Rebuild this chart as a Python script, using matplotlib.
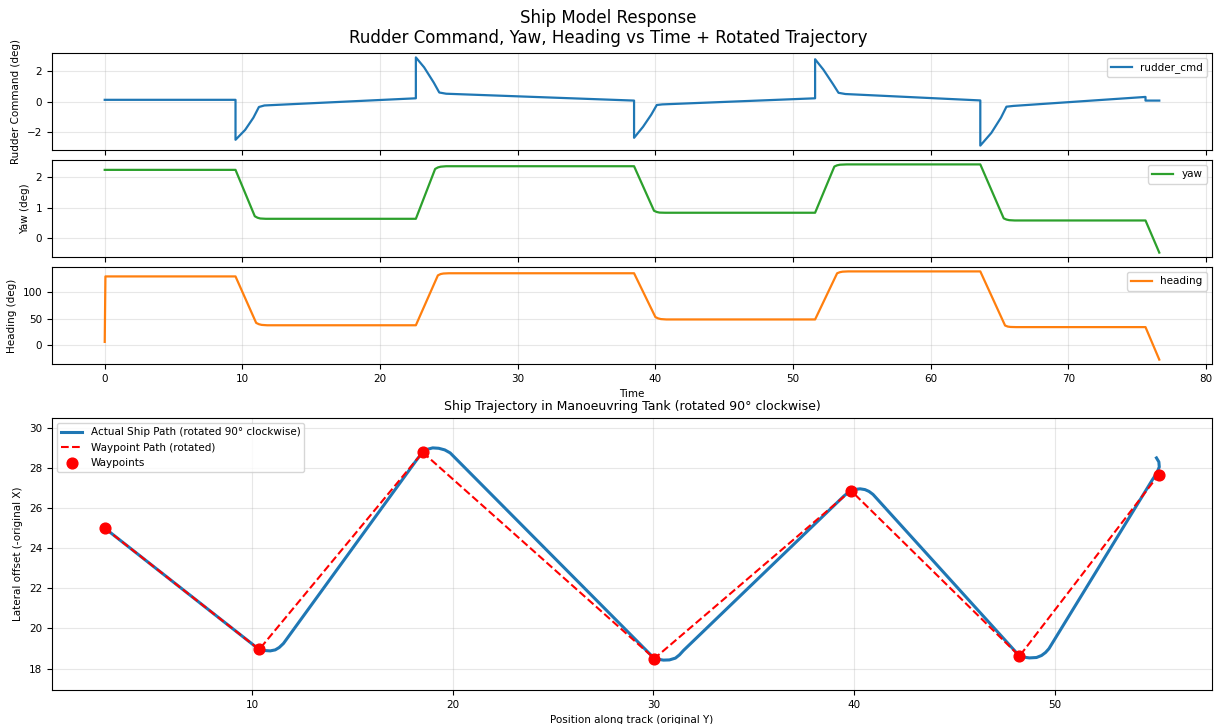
import matplotlib
matplotlib.use("Agg")
import matplotlib.pyplot as plt

# ── Time series (keypoints)
t_rudder = [0, 9.5, 9.5, 10.2, 10.8, 11.2, 11.6, 22.6, 22.6, 23.2, 23.9, 24.3, 24.8,
            38.45, 38.45, 39.1, 39.7, 40.1, 40.5, 51.6, 51.6, 52.2, 52.9, 53.3, 53.8,
            63.6, 63.6, 64.4, 65.1, 65.5, 66.0, 75.6, 75.6, 76.6]
rudder_cmd = [0.12, 0.12, -2.5, -1.85, -1.05, -0.35, -0.25, 0.22, 2.9, 2.25, 1.25, 0.6, 0.52,
              0.07, -2.37, -1.65, -0.85, -0.22, -0.18, 0.22, 2.78, 2.1, 1.15, 0.58, 0.5,
              0.08, -2.88, -2.05, -1.05, -0.33, -0.28, 0.31, 0.07, 0.07]

t_yaw = [0, 9.5, 10.9, 11.1, 11.3, 11.7, 22.6, 24.0, 24.2, 24.4, 24.8, 38.45, 39.9, 40.1, 40.3, 40.7,
         51.6, 53.0, 53.2, 53.4, 53.9, 63.6, 65.3, 65.5, 65.7, 66.1, 75.6, 76.6]
yaw = [2.25, 2.25, 0.72, 0.67, 0.645, 0.635, 0.635, 2.28, 2.33, 2.355, 2.37, 2.37, 0.9, 0.86, 0.84, 0.835,
       0.835, 2.36, 2.4, 2.42, 2.43, 2.43, 0.65, 0.61, 0.59, 0.58, 0.58, -0.48]

t_heading = [0, 0.05, 9.5, 11.0, 11.2, 11.4, 11.8, 22.6, 24.2, 24.4, 24.6, 25.0, 38.45, 40.0, 40.2,
             40.4, 40.8, 51.6, 53.2, 53.4, 53.6, 54.0, 63.6, 65.4, 65.6, 65.8, 66.2, 75.6, 76.6]
heading = [6, 130, 130, 42, 39.5, 38.2, 37.5, 37.5, 132, 134.5, 135.5, 136, 136, 53, 50.5,
           49.2, 48.5, 48.5, 136, 138, 139, 139.5, 139.5, 37, 35, 34.3, 34, 34, -27.5]

# ── Trajectory (rotated)
path_y = [2.65, 10.35, 10.6, 10.9, 11.15, 11.35, 11.56, 18.2, 18.45, 18.7, 19.0, 19.3, 19.6, 19.87,
          29.95, 30.2, 30.5, 30.8, 31.1, 31.3, 31.5, 39.5, 39.75, 40.0, 40.3, 40.55, 40.75, 40.95,
          48.2, 48.45, 48.75, 49.1, 49.35, 49.55, 49.72, 54.87, 55.1, 55.22, 55.2, 55.08]
path_x = [25.0, 18.95, 18.9, 18.88, 18.93, 19.05, 19.25, 28.4, 28.72, 28.92, 29.0, 28.98, 28.9, 28.75,
          18.6, 18.47, 18.42, 18.43, 18.52, 18.68, 18.9, 26.6, 26.8, 26.92, 26.96, 26.92, 26.83, 26.68,
          18.68, 18.57, 18.53, 18.55, 18.65, 18.8, 18.99, 27.4, 27.75, 28.05, 28.3, 28.5]

wp_y = [2.65, 10.35, 18.5, 30.05, 39.85, 48.25, 55.2]
wp_x = [25.0, 18.95, 28.78, 18.5, 26.87, 18.62, 27.67]

plt.rcParams.update({
    "font.size": 7.5,
    "axes.titlesize": 9,
    "axes.labelsize": 7.5,
    "xtick.labelsize": 7.5,
    "ytick.labelsize": 7.5,
    "legend.fontsize": 7.5,
})

fig = plt.figure(figsize=(12.17, 7.24), dpi=100)
W, H = 1217.0, 724.0

def box(left, top, right, bottom):
    return [left / W, 1 - bottom / H, (right - left) / W, (bottom - top) / H]

ax1 = fig.add_axes(box(52, 53, 1212, 150))
ax2 = fig.add_axes(box(52, 160, 1212, 257), sharex=ax1)
ax3 = fig.add_axes(box(52, 267, 1212, 364), sharex=ax1)
ax4 = fig.add_axes(box(52, 418, 1212, 690))

ax1.plot(t_rudder, rudder_cmd, color="#1f77b4", linewidth=1.6, label="rudder_cmd")
ax1.set_ylabel("Rudder Command (deg)")
ax1.legend(loc="upper right")

ax2.plot(t_yaw, yaw, color="#2ca02c", linewidth=1.6, label="yaw")
ax2.set_ylabel("Yaw (deg)")
ax2.legend(loc="upper right")

ax3.plot(t_heading, heading, color="#ff7f0e", linewidth=1.6, label="heading")
ax3.set_ylabel("Heading (deg)")
ax3.set_xlabel("Time")
ax3.legend(loc="upper right")

for ax in (ax1, ax2, ax3):
    ax.grid(True, alpha=0.3)
for ax in (ax1, ax2):
    ax.tick_params(labelbottom=False)

ax4.plot(path_y, path_x, color="#1f77b4", linewidth=2.2,
         label="Actual Ship Path (rotated 90° clockwise)")
ax4.plot(wp_y, wp_x, "r--", linewidth=1.5, label="Waypoint Path (rotated)")
ax4.scatter(wp_y, wp_x, color="red", s=60, zorder=5, label="Waypoints")
ax4.set_title("Ship Trajectory in Manoeuvring Tank (rotated 90° clockwise)")
ax4.set_xlabel("Position along track (original Y)")
ax4.set_ylabel("Lateral offset (-original X)")
ax4.axis("equal")
ax4.grid(True, alpha=0.3)
ax4.legend(loc="upper left")

fig.suptitle("Ship Model Response\nRudder Command, Yaw, Heading vs Time + Rotated Trajectory",
             fontsize=12, y=0.988)

fig.savefig("out.png", dpi=100)
